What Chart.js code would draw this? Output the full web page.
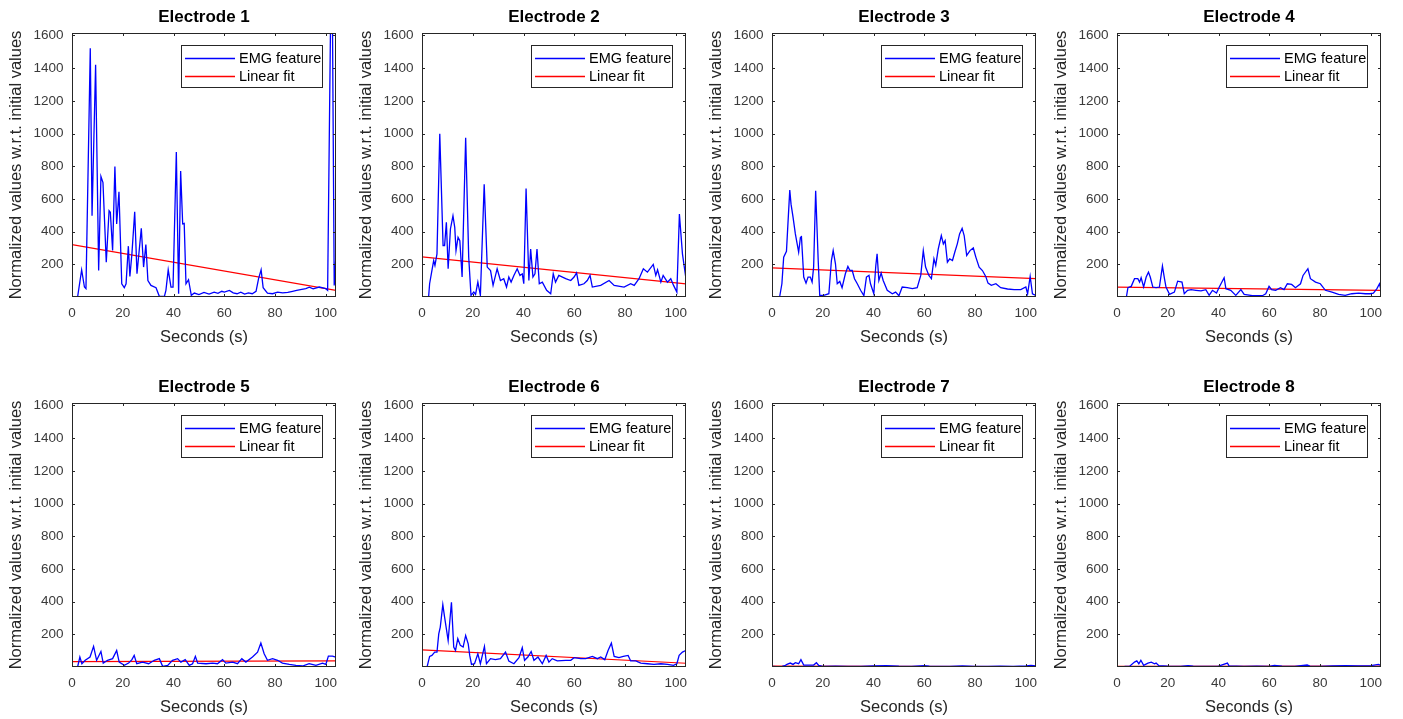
<!DOCTYPE html>
<html>
<head>
<meta charset="utf-8">
<title>EMG electrodes</title>
<script src="https://cdn.jsdelivr.net/npm/chart.js@4.4.1/dist/chart.umd.min.js"></script>
<style>
  html, body { margin: 0; padding: 0; background: #fff; }
  body { width: 1403px; height: 719px; position: relative; overflow: hidden; }
  canvas { position: absolute; }
</style>
</head>
<body>
<script>
// values (seconds / normalized value)
const sec1 = [0, 2.2, 3.8, 4.9, 5.5, 7.2, 7.9, 9.3, 10.5, 11.4, 12.2, 13.5, 14.6, 15.1, 16.0, 16.9, 17.6, 18.5, 19.6, 20.6, 21.3, 22.2, 22.8, 23.6, 24.7, 25.6, 27.3, 28.2, 29.1, 29.9, 31.1, 33.1, 34.4, 36.4, 37.0, 37.9, 39.0, 39.8, 41.1, 42.0, 42.8, 43.6, 44.2, 44.9, 45.9, 47.0, 48.2, 50, 52, 54, 56, 57.5, 59, 60, 62, 63.5, 65, 66.5, 68, 69.5, 71, 72.5, 73.5, 74.5, 75.3, 77, 79, 81, 83, 85, 86.9, 88.5, 90, 92.1, 93.5, 95, 97.4, 100, 100.7, 101.9, 102.6, 103.3, 103.9];
const emg1 = [0, 0, 166, 61, 51, 1522, 497, 1421, 162, 737, 700, 213, 528, 518, 284, 798, 447, 644, 81, 57, 81, 311, 126, 264, 522, 142, 420, 183, 321, 101, 71, 57, 4, 4, 41, 166, 61, 61, 887, 20, 771, 447, 450, 81, 106, 10, 24, 15, 28, 18, 30, 22, 35, 30, 40, 25, 20, 30, 18, 25, 20, 35, 112, 166, 57, 24, 20, 30, 25, 28, 35, 40, 45, 51, 60, 50, 61, 51, 41, 1750, 1700, 71, 233];

const sec2 = [0, 2.6, 3.0, 3.9, 4.6, 5.1, 5.9, 7.0, 8.3, 8.9, 9.6, 10.3, 11.2, 12.2, 12.9, 13.4, 14.2, 14.9, 15.8, 17.2, 18.4, 19.3, 20.4, 21.1, 22.0, 23.0, 24.5, 25.7, 27.0, 28.0, 29.6, 30.9, 32.2, 33.3, 34.2, 35.1, 36.2, 37.5, 38.6, 39.5, 40.1, 41.0, 42.1, 42.8, 43.7, 44.5, 45.3, 46.2, 47.4, 49.1, 50.7, 51.7, 52.6, 53.9, 56.6, 58.6, 59.9, 60.9, 61.8, 63.8, 65.1, 66.2, 67.1, 70.4, 73.7, 75.7, 79.6, 82.2, 83.6, 85.5, 87.2, 88.8, 91.1, 92.1, 92.8, 94.1, 95.0, 96.7, 98.0, 99.1, 100.4, 101.4, 102.6, 103.9];
const emg2 = [0, 0, 81, 162, 223, 193, 264, 999, 315, 315, 457, 173, 416, 497, 426, 284, 365, 345, 122, 974, 244, 10, 30, 16, 91, 10, 690, 183, 162, 71, 173, 101, 112, 61, 122, 91, 132, 173, 132, 142, 81, 664, 101, 294, 122, 142, 294, 81, 91, 41, 20, 142, 91, 132, 112, 101, 122, 148, 71, 81, 101, 132, 61, 71, 101, 71, 61, 81, 71, 112, 173, 152, 199, 132, 166, 91, 132, 91, 112, 71, 30, 507, 264, 122];

const sec3 = [0, 3.0, 3.9, 4.6, 5.7, 6.2, 7.0, 7.5, 8.3, 9.2, 10.5, 11.2, 11.6, 12.5, 13.4, 14.2, 15.1, 15.8, 16.4, 17.2, 18.2, 18.8, 20.4, 22.4, 23.4, 24.1, 25.0, 25.7, 26.7, 27.6, 28.9, 29.9, 30.7, 31.6, 32.5, 33.6, 34.9, 36.2, 37.2, 38.2, 38.8, 40.1, 40.9, 41.4, 42.1, 43.0, 43.8, 45.4, 47.4, 48.7, 50.0, 51.3, 53.3, 55.3, 57.2, 58.6, 59.6, 60.5, 61.8, 62.8, 63.8, 64.5, 65.5, 66.7, 67.5, 68.2, 69.1, 70.0, 71.1, 72.0, 73.0, 73.9, 74.9, 75.7, 76.7, 78.0, 79.3, 80.3, 81.6, 82.9, 84.2, 85.1, 86.4, 88.2, 90.1, 92.8, 95.4, 98.0, 100.0, 100.7, 101.7, 102.6, 103.9];
const emg3 = [0, 0, 81, 244, 280, 426, 654, 568, 487, 386, 274, 365, 369, 122, 85, 122, 122, 91, 183, 650, 223, 10, 10, 20, 223, 284, 203, 81, 95, 57, 142, 187, 162, 162, 112, 81, 41, 8, 122, 132, 81, 20, 193, 264, 101, 146, 101, 41, 20, 30, 8, 61, 57, 51, 57, 132, 284, 183, 132, 112, 233, 193, 294, 376, 325, 345, 213, 233, 223, 274, 325, 386, 420, 376, 254, 284, 300, 244, 183, 162, 126, 85, 71, 81, 57, 49, 45, 45, 61, 20, 126, 20, 10];

const sec4 = [0, 3.7, 4.3, 5.6, 6.9, 8.2, 8.9, 9.5, 10.5, 11.5, 12.4, 13.1, 14.1, 15.4, 16.7, 17.9, 18.7, 19.3, 20.7, 22.6, 23.9, 25.6, 26.5, 27.8, 29.2, 31.1, 33.1, 35.0, 36.3, 37.6, 39.2, 40.3, 42.2, 42.9, 44.8, 46.8, 48.8, 50.1, 53.3, 57.3, 58.6, 59.9, 60.9, 62.5, 64.4, 65.8, 67.1, 68.8, 70.3, 72.3, 73.3, 75.2, 76.2, 78.2, 80.1, 82.1, 84.7, 87.3, 89.9, 92.5, 95.2, 97.8, 99.7, 101.0, 102.4, 103.4, 104.0];
const emg4 = [0, 0, 57, 65, 112, 112, 91, 118, 61, 122, 152, 122, 61, 57, 61, 189, 112, 61, 16, 30, 97, 91, 20, 41, 45, 41, 37, 45, 10, 41, 24, 61, 118, 51, 41, 10, 45, 16, 8, 8, 20, 65, 45, 41, 57, 45, 81, 77, 57, 81, 132, 173, 112, 91, 81, 41, 30, 16, 10, 20, 24, 20, 20, 24, 51, 81, 41];

const sec5 = [0, 2.2, 3.1, 3.9, 5.2, 7.1, 8.5, 9.7, 11.4, 12.3, 14.0, 16.0, 17.6, 18.6, 20.6, 22.3, 23.6, 24.5, 25.5, 27.8, 30.2, 32.4, 34.4, 35.7, 37.7, 39.6, 41.6, 42.9, 44.6, 46.2, 47.5, 48.6, 49.5, 52.8, 55.4, 57.3, 59.3, 60.6, 63.3, 65.2, 66.9, 68.5, 71.1, 73.1, 74.4, 75.7, 77.0, 79.0, 81.0, 82.9, 85.6, 88.2, 90.8, 93.4, 96.1, 98.7, 100.0, 101.0, 102.6, 103.9];
const emg5 = [0, 0, 61, 20, 41, 61, 126, 41, 95, 24, 41, 51, 101, 30, 10, 24, 45, 71, 20, 30, 20, 41, 51, 4, 10, 41, 51, 30, 45, 10, 20, 65, 24, 20, 24, 20, 45, 24, 30, 20, 51, 30, 61, 91, 146, 81, 41, 51, 41, 24, 16, 10, 6, 20, 10, 24, 16, 67, 67, 61];

const sec6 = [0, 2.0, 3.0, 3.9, 5.0, 5.9, 6.6, 7.2, 8.2, 8.9, 10.3, 11.6, 12.5, 13.2, 14.1, 15.1, 16.2, 17.2, 18.2, 18.8, 19.5, 20.7, 22.0, 23.0, 24.6, 25.4, 27.0, 28.9, 30.9, 32.9, 34.2, 36.2, 38.2, 39.5, 40.4, 41.7, 43.0, 44.1, 45.7, 47.4, 48.9, 50.0, 51.3, 53.3, 56.6, 58.6, 59.9, 62.5, 64.5, 67.1, 69.1, 70.4, 72.0, 73.3, 74.6, 75.7, 77.6, 79.3, 81.2, 82.2, 84.2, 86.2, 88.8, 91.4, 94.1, 96.7, 99.1, 100.4, 101.3, 102.6, 103.9];
const emg6 = [0, 0, 65, 71, 91, 91, 203, 244, 382, 305, 162, 396, 122, 101, 173, 132, 122, 193, 142, 71, 16, 20, 81, 20, 126, 20, 51, 45, 51, 91, 37, 20, 57, 118, 41, 61, 95, 41, 61, 20, 71, 30, 51, 37, 41, 41, 57, 51, 51, 65, 51, 61, 45, 101, 146, 65, 57, 65, 71, 37, 37, 24, 20, 16, 20, 16, 10, 20, 71, 91, 101];

const sec7 = [0, 2, 4, 5, 5.9, 7.2, 8.3, 9.2, 10.5, 11.4, 12.5, 14.5, 16.4, 17.5, 18.4, 20, 25, 30, 35, 40, 45, 50, 55, 60, 62, 70, 75, 80, 85, 90, 95, 100, 102, 104];
const emg7 = [3, 2, 4, 8, 16, 24, 16, 26, 20, 45, 12, 12, 12, 26, 10, 4, 5, 3, 4, 6, 8, 5, 4, 9, 5, 4, 6, 4, 3, 5, 4, 6, 10, 6];

const sec8 = [0, 3, 5, 6.9, 7.8, 8.6, 9.4, 10.5, 12.2, 13.5, 14.8, 15.4, 16.5, 20, 25, 28, 30, 35, 40, 43.5, 44.2, 50, 55, 60, 62, 65, 70, 74.9, 76, 80, 85, 90, 95, 100, 103, 104];
const emg8 = [2, 3, 5, 30, 37, 20, 41, 10, 24, 30, 20, 24, 8, 5, 4, 8, 5, 3, 5, 24, 6, 4, 5, 4, 10, 5, 4, 12, 5, 4, 6, 8, 7, 9, 16, 10];

// linear fit: value at start (0 s) and end (104 s)
const fitStart = [320, 245, 178, 60, 33, 105, 6, 4];
const fitEnd = [40, 80, 112, 40, 38, 23, 3, 6];

const titles = ['Electrode 1', 'Electrode 2', 'Electrode 3', 'Electrode 4',
                'Electrode 5', 'Electrode 6', 'Electrode 7', 'Electrode 8'];
const seriesNames = ['EMG feature', 'Linear fit'];
const xTicks = [0, 20, 40, 60, 80, 100];
const yTicks = [200, 400, 600, 800, 1000, 1200, 1400, 1600];
const xRange = [0, 104];
const yRange = [0, 1615];

const allSec = [sec1, sec2, sec3, sec4, sec5, sec6, sec7, sec8];
const allEmg = [emg1, emg2, emg3, emg4, emg5, emg6, emg7, emg8];

// layout of the subplot grid
const colLeft = [0, 350, 700, 1045];
const rowTop = [0, 370];
const FONT = '"Liberation Sans", Arial, Helvetica, sans-serif';
const AXIS = '#262626';

// axes box with inward ticks, like MATLAB
const boxPlugin = {
    id: 'boxPlugin',
    afterDatasetsDraw(chart) {
        const {ctx, chartArea: a, scales} = chart;
        ctx.save();
        ctx.strokeStyle = AXIS;
        ctx.lineWidth = 1;
        ctx.strokeRect(Math.round(a.left) + 0.5, Math.round(a.top) + 0.5,
            Math.round(a.right - a.left) - 1, Math.round(a.bottom - a.top) - 1);
        ctx.beginPath();
        scales.x.ticks.forEach(t => {
            const px = Math.round(scales.x.getPixelForValue(t.value)) + 0.5;
            ctx.moveTo(px, a.bottom); ctx.lineTo(px, a.bottom - 3);
            ctx.moveTo(px, a.top); ctx.lineTo(px, a.top + 3);
        });
        scales.y.ticks.forEach(t => {
            const py = Math.round(scales.y.getPixelForValue(t.value)) + 0.5;
            ctx.moveTo(a.left, py); ctx.lineTo(a.left + 3, py);
            ctx.moveTo(a.right, py); ctx.lineTo(a.right - 3, py);
        });
        ctx.stroke();
        ctx.restore();
    }
};

// legend box in the upper right corner of the axes
const innerLegend = {
    id: 'innerLegend',
    afterDraw(chart) {
        const {ctx, chartArea: a} = chart;
        const w = 141, h = 42;
        const x = Math.round(a.right - 14 - w), y = Math.round(a.top + 12);
        ctx.save();
        ctx.fillStyle = '#fff';
        ctx.fillRect(x, y, w, h);
        ctx.strokeStyle = AXIS;
        ctx.lineWidth = 1;
        ctx.strokeRect(x + 0.5, y + 0.5, w, h);
        ctx.font = '14.5px ' + FONT;
        ctx.textBaseline = 'middle';
        chart.data.datasets.forEach((ds, i) => {
            const ly = y + 13.5 + i * 18;
            ctx.strokeStyle = ds.borderColor;
            ctx.lineWidth = 1.3;
            ctx.beginPath();
            ctx.moveTo(x + 4, ly); ctx.lineTo(x + 54, ly);
            ctx.stroke();
            ctx.fillStyle = '#000';
            ctx.fillText(ds.label, x + 58, ly);
        });
        ctx.restore();
    }
};

titles.forEach((title, i) => {
    const canvas = document.createElement('canvas');
    canvas.width = 356;
    canvas.height = 350;
    canvas.style.left = colLeft[i % 4] + 'px';
    canvas.style.top = rowTop[Math.floor(i / 4)] + 'px';
    document.body.appendChild(canvas);

    const emgPoints = allSec[i].map((s, k) => ({x: s, y: allEmg[i][k]}));
    const fitPoints = [{x: xRange[0], y: fitStart[i]}, {x: xRange[1], y: fitEnd[i]}];

    new Chart(canvas, {
        type: 'line',
        data: {
            datasets: [
                { label: seriesNames[0], data: emgPoints, borderColor: '#0000ff', borderWidth: 1.3, pointRadius: 0, tension: 0 },
                { label: seriesNames[1], data: fitPoints, borderColor: '#ff0000', borderWidth: 1.2, pointRadius: 0, tension: 0 }
            ]
        },
        options: {
            responsive: false,
            animation: false,
            events: [],
            layout: { padding: { left: 0, right: 20, top: 0, bottom: 0 } },
            plugins: {
                legend: { display: false },
                tooltip: { enabled: false },
                title: {
                    display: true,
                    text: title,
                    fullSize: false,
                    color: '#000',
                    font: { family: FONT, size: 17, weight: 'bold' },
                    padding: { top: 7, bottom: 5.6 }
                }
            },
            scales: {
                x: {
                    type: 'linear',
                    min: xRange[0],
                    max: xRange[1],
                    afterBuildTicks: s => { s.ticks = xTicks.map(v => ({value: v})); },
                    afterFit: s => { s.height = 53; },
                    grid: { display: false, drawTicks: false },
                    border: { display: false },
                    ticks: { color: '#3a3a3a', padding: 8, maxRotation: 0, autoSkip: false,
                             callback: v => String(v),
                             font: { family: FONT, size: 13.5 } },
                    title: { display: true, text: 'Seconds (s)', color: AXIS,
                             font: { family: FONT, size: 16.5 }, padding: { top: 0, bottom: 3 } }
                },
                y: {
                    min: yRange[0],
                    max: yRange[1],
                    afterBuildTicks: s => { s.ticks = yTicks.map(v => ({value: v})); },
                    afterFit: s => { s.width = 72; },
                    grid: { display: false, drawTicks: false },
                    border: { display: false },
                    ticks: { color: '#3a3a3a', padding: 8.5, autoSkip: false,
                             callback: v => String(v),
                             font: { family: FONT, size: 13.5 } },
                    title: { display: true, text: 'Normalized values w.r.t. initial values', color: AXIS,
                             font: { family: FONT, size: 16.5 }, padding: { top: 6.8, bottom: 0 } }
                }
            }
        },
        plugins: [boxPlugin, innerLegend]
    });
});
</script>
</body>
</html>
